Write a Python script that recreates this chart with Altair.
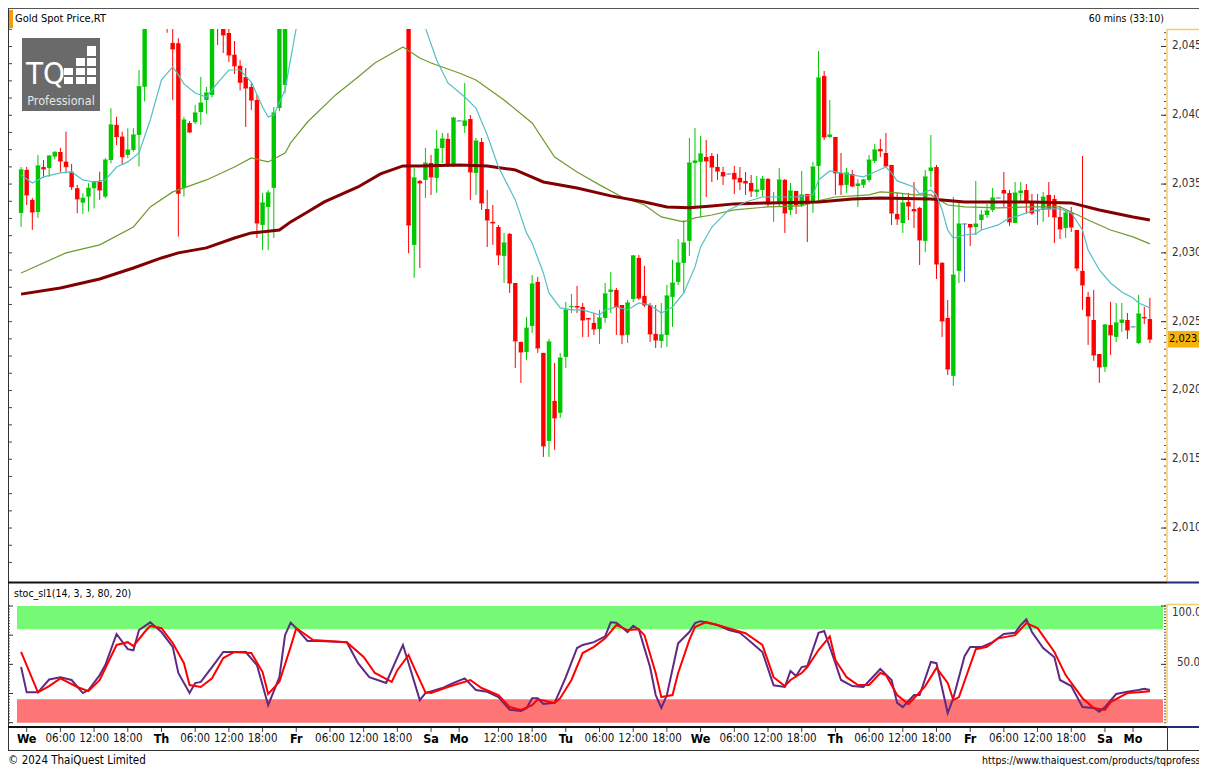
import altair as alt
import pandas as pd
import numpy as np

W, H = 1149, 698
FONT = "DejaVu Sans Condensed, DejaVu Sans, sans-serif"

# ---------------- candles (index -1 .. 200, one per hour) ----------------
candle_idx = list(range(-1, 201))
opens = [
    2032.90, 2036.03, 2033.85, 2032.97, 2036.24, 2036.17, 2037.00, 2037.33, 2036.63, 2035.90,
    2034.70, 2033.65, 2034.09, 2034.70, 2035.18, 2034.09, 2036.75, 2039.30, 2038.45, 2037.12,
    2037.48, 2038.57, 2042.08, 2047.50, 2051.00, 2053.50, 2051.00, 2045.26, 2045.23, 2034.72,
    2039.44, 2039.50, 2040.24, 2041.11, 2041.48, 2047.50, 2046.80, 2045.98, 2044.40, 2043.60,
    2042.78, 2042.06, 2041.11, 2032.03, 2033.34, 2034.72, 2040.53, 2042.20, 2048.00, 2051.50,
    2053.00, 2054.50, 2053.00, 2052.00, 2053.00, 2054.50, 2056.00, 2055.00, 2054.00, 2055.00,
    2054.50, 2053.00, 2052.00, 2051.50, 2053.00, 2052.50, 2051.50, 2052.50, 2053.50, 2055.50,
    2030.58, 2035.23, 2035.30, 2036.53, 2035.45, 2037.62, 2038.28, 2036.39, 2039.59, 2039.22,
    2039.73, 2035.81, 2038.06, 2033.19, 2032.25, 2031.88, 2029.78, 2031.38, 2027.81, 2023.53,
    2022.80, 2024.69, 2027.89, 2022.73, 2016.33, 2019.24, 2018.37, 2022.44, 2026.06, 2026.14,
    2026.07, 2025.27, 2024.91, 2024.47, 2025.27, 2027.16, 2027.30, 2026.21, 2024.04, 2026.65,
    2029.63, 2026.87, 2026.21, 2024.11, 2023.60, 2024.04, 2026.80, 2027.89, 2029.27, 2030.87,
    2036.53, 2036.61, 2036.97, 2037.04, 2036.24, 2035.88, 2035.73, 2035.81, 2035.45, 2035.23,
    2035.08, 2034.43, 2034.57, 2035.37, 2033.56, 2033.63, 2035.30, 2033.12, 2034.50, 2033.48,
    2034.28, 2033.63, 2036.32, 2042.86, 2038.42, 2038.42, 2035.81, 2034.94, 2035.73, 2034.86,
    2034.94, 2035.30, 2036.68, 2037.55, 2037.26, 2036.39, 2032.83, 2032.17, 2033.70, 2033.19,
    2033.27, 2030.87, 2035.95, 2036.24, 2029.27, 2025.27, 2021.06, 2028.69, 2032.10, 2032.10,
    2031.88, 2032.39, 2032.75, 2033.12, 2033.99, 2034.57, 2034.35, 2032.17, 2034.35, 2034.57,
    2033.63, 2033.05, 2033.12, 2034.21, 2033.92, 2032.61, 2031.81, 2032.90, 2031.66, 2028.69,
    2026.80, 2025.12, 2022.65, 2021.71, 2024.76, 2023.89, 2024.91, 2025.12, 2024.62, 2023.45,
    2025.34, 2025.19,
]
highs = [
    2036.24, 2036.24, 2033.99, 2037.12, 2036.75, 2037.12, 2037.40, 2037.63, 2038.81, 2036.46,
    2034.94, 2034.33, 2035.06, 2035.18, 2035.90, 2036.88, 2040.51, 2039.90, 2038.81, 2039.06,
    2039.06, 2043.29, 2048.50, 2052.00, 2054.50, 2055.00, 2052.50, 2047.00, 2045.60, 2039.88,
    2039.59, 2040.75, 2042.78, 2042.06, 2047.50, 2049.00, 2047.00, 2046.50, 2045.40, 2044.00,
    2043.44, 2042.35, 2041.48, 2034.36, 2034.57, 2040.60, 2049.00, 2050.00, 2052.50, 2054.00,
    2055.50, 2056.00, 2054.50, 2053.50, 2055.00, 2056.50, 2057.00, 2056.00, 2055.50, 2056.00,
    2055.00, 2054.00, 2053.00, 2053.50, 2054.50, 2053.00, 2053.00, 2054.00, 2056.00, 2056.50,
    2036.17, 2035.30, 2037.63, 2037.12, 2038.93, 2038.71, 2038.71, 2039.88, 2039.62, 2042.35,
    2040.02, 2038.35, 2038.35, 2034.57, 2033.48, 2032.03, 2031.45, 2031.45, 2027.81, 2023.53,
    2025.34, 2028.39, 2028.25, 2022.73, 2023.74, 2022.00, 2022.73, 2026.43, 2027.02, 2027.60,
    2026.36, 2025.27, 2025.63, 2025.85, 2027.81, 2028.61, 2027.45, 2026.21, 2026.58, 2029.85,
    2029.85, 2029.05, 2026.36, 2026.21, 2026.36, 2027.67, 2029.49, 2031.01, 2032.39, 2038.35,
    2039.08, 2038.50, 2038.20, 2037.26, 2037.19, 2036.24, 2035.75, 2036.32, 2036.24, 2035.88,
    2035.66, 2035.59, 2035.59, 2035.45, 2034.43, 2036.17, 2035.37, 2035.08, 2034.50, 2035.95,
    2034.28, 2036.61, 2044.67, 2043.22, 2041.11, 2038.42, 2037.26, 2036.17, 2036.02, 2035.37,
    2035.37, 2037.12, 2037.92, 2038.28, 2038.71, 2036.39, 2034.36, 2034.28, 2034.36, 2035.15,
    2033.34, 2036.02, 2038.57, 2036.39, 2029.34, 2026.58, 2034.06, 2033.63, 2032.12, 2032.10,
    2035.23, 2033.12, 2033.56, 2034.72, 2034.01, 2035.88, 2034.57, 2035.15, 2035.15, 2035.01,
    2034.28, 2034.28, 2034.43, 2035.15, 2034.21, 2033.41, 2033.19, 2033.34, 2031.66, 2037.04,
    2027.16, 2027.30, 2022.65, 2024.83, 2026.43, 2026.36, 2026.36, 2025.63, 2024.64, 2026.94,
    2026.07, 2026.72,
]
lows = [
    2031.88, 2033.48, 2031.67, 2032.54, 2035.45, 2035.52, 2036.80, 2035.88, 2035.79, 2034.57,
    2032.88, 2032.83, 2033.00, 2033.24, 2033.85, 2033.97, 2036.51, 2037.84, 2036.39, 2036.88,
    2037.36, 2036.27, 2041.00, 2046.80, 2049.50, 2050.00, 2046.00, 2041.10, 2031.18, 2034.09,
    2038.71, 2039.37, 2039.30, 2040.10, 2041.30, 2045.11, 2044.53, 2043.87, 2043.00, 2041.80,
    2039.15, 2040.39, 2031.08, 2030.21, 2030.21, 2031.08, 2040.30, 2041.60, 2047.00, 2050.00,
    2051.50, 2052.50, 2051.00, 2050.50, 2052.00, 2053.50, 2054.00, 2053.50, 2053.00, 2054.00,
    2052.50, 2051.50, 2050.50, 2051.00, 2052.00, 2051.00, 2050.50, 2051.50, 2052.50, 2029.97,
    2028.18, 2028.90, 2033.99, 2034.21, 2034.36, 2036.53, 2036.24, 2036.24, 2039.56, 2038.71,
    2033.85, 2034.21, 2033.12, 2030.43, 2030.58, 2029.12, 2027.81, 2027.09, 2021.64, 2020.55,
    2022.22, 2024.18, 2022.73, 2015.17, 2015.17, 2015.68, 2018.00, 2021.64, 2025.63, 2025.63,
    2023.89, 2023.89, 2024.04, 2023.38, 2024.91, 2025.63, 2024.04, 2023.38, 2023.45, 2026.43,
    2026.58, 2026.07, 2023.53, 2023.09, 2023.09, 2023.16, 2024.62, 2027.67, 2027.09, 2029.78,
    2033.34, 2032.61, 2034.06, 2035.15, 2035.30, 2034.94, 2035.71, 2034.28, 2034.57, 2034.21,
    2034.06, 2034.06, 2034.06, 2033.34, 2032.25, 2033.34, 2031.45, 2032.75, 2032.83, 2033.34,
    2030.79, 2032.90, 2033.63, 2038.20, 2038.35, 2034.21, 2034.21, 2034.36, 2034.79, 2033.34,
    2034.72, 2035.15, 2036.53, 2036.97, 2036.24, 2032.03, 2032.03, 2031.45, 2032.39, 2031.81,
    2029.12, 2030.07, 2034.79, 2028.10, 2023.89, 2021.13, 2020.33, 2027.81, 2027.89, 2030.50,
    2031.30, 2031.66, 2032.54, 2032.97, 2033.97, 2033.34, 2031.96, 2032.17, 2033.70, 2032.83,
    2032.75, 2032.03, 2032.25, 2032.61, 2030.72, 2031.01, 2031.08, 2031.52, 2028.69, 2025.85,
    2023.31, 2022.15, 2020.55, 2021.35, 2022.58, 2023.53, 2024.26, 2023.74, 2024.60, 2023.38,
    2024.83, 2023.45,
]
closes = [
    2036.03, 2034.21, 2032.97, 2036.32, 2036.10, 2037.04, 2037.30, 2036.68, 2036.27, 2034.81,
    2033.92, 2033.97, 2034.70, 2035.18, 2034.57, 2036.75, 2039.30, 2038.45, 2036.99, 2037.48,
    2038.57, 2042.08, 2047.50, 2051.00, 2053.50, 2051.00, 2046.50, 2044.82, 2034.33, 2039.66,
    2038.79, 2040.17, 2040.89, 2041.62, 2047.00, 2046.80, 2045.84, 2044.38, 2043.60, 2042.40,
    2041.98, 2041.11, 2032.17, 2033.63, 2034.36, 2040.17, 2047.50, 2048.00, 2051.50, 2053.00,
    2054.50, 2053.00, 2052.00, 2053.00, 2054.50, 2056.00, 2055.00, 2054.00, 2055.00, 2054.50,
    2053.00, 2052.00, 2051.50, 2053.00, 2052.50, 2051.50, 2052.50, 2053.50, 2055.50, 2032.03,
    2035.45, 2035.08, 2036.53, 2035.52, 2037.55, 2038.28, 2036.39, 2039.80, 2039.59, 2039.59,
    2035.88, 2038.13, 2033.63, 2032.39, 2032.17, 2029.85, 2030.72, 2027.81, 2023.60, 2022.80,
    2024.54, 2027.74, 2023.09, 2015.97, 2023.53, 2018.01, 2022.36, 2025.85, 2026.10, 2026.06,
    2025.12, 2025.19, 2024.47, 2025.27, 2027.02, 2027.30, 2026.07, 2024.04, 2026.36, 2029.78,
    2026.72, 2026.21, 2024.11, 2023.67, 2024.04, 2026.87, 2027.81, 2029.27, 2030.72, 2036.53,
    2036.68, 2037.19, 2036.68, 2036.24, 2035.95, 2035.59, 2035.73, 2035.37, 2035.15, 2035.08,
    2034.50, 2034.57, 2035.37, 2033.56, 2033.63, 2035.30, 2032.90, 2034.50, 2033.48, 2034.21,
    2033.56, 2036.24, 2042.71, 2038.42, 2038.57, 2035.81, 2034.94, 2035.81, 2034.86, 2035.01,
    2035.30, 2036.75, 2037.48, 2037.41, 2036.32, 2032.90, 2032.47, 2033.63, 2033.41, 2033.05,
    2030.94, 2035.52, 2036.17, 2029.19, 2025.05, 2021.56, 2028.39, 2032.10, 2032.10, 2031.88,
    2032.10, 2032.75, 2033.05, 2033.99, 2033.99, 2034.35, 2032.25, 2034.35, 2034.50, 2033.70,
    2032.90, 2033.05, 2034.06, 2033.19, 2032.61, 2031.74, 2032.90, 2031.88, 2028.90, 2027.67,
    2025.42, 2022.58, 2021.71, 2024.76, 2024.04, 2024.91, 2025.12, 2024.40, 2024.62, 2025.56,
    2025.27, 2023.73,
]

# ---------------- moving averages (read at sample candles) ----------------
cyan_idx = [-1, 1, 3, 6, 8, 10, 12, 14, 16, 18, 20, 22, 24, 26, 27, 28, 30, 32, 34, 36,
            38, 40, 42, 43, 44, 46, 48, 50, 54, 58, 62, 66, 68, 70, 71, 73, 75, 78, 80, 82,
            84, 87, 89, 90, 92, 93, 95, 97, 99, 102, 103, 105, 107, 109, 111, 113, 115, 117, 119, 120,
            122, 125, 128, 131, 134, 137, 140, 141, 143, 145, 147, 149, 151, 153, 154, 155, 158, 159, 161, 162,
            163, 164, 165, 167, 169, 170, 173, 175, 176, 179, 181, 184, 186, 188, 189, 191, 193, 195, 197, 198, 200]
cyan_val = [2035.66, 2035.08, 2035.52, 2035.81, 2035.88, 2035.30, 2035.15, 2035.30, 2036.24, 2036.61,
            2037.26, 2039.66, 2042.57, 2043.51, 2042.93, 2042.28, 2041.62, 2041.33, 2042.35, 2043.29,
            2043.29, 2042.42, 2040.60, 2039.88, 2040.02, 2041.84, 2046.35, 2049.50, 2052.00, 2053.50,
            2053.00, 2053.00, 2050.50, 2047.30, 2046.35, 2044.02, 2042.35, 2041.33, 2040.53, 2038.57,
            2036.24, 2033.85, 2031.45, 2030.72, 2028.54, 2027.09, 2026.00, 2025.85, 2025.85, 2025.49,
            2025.85, 2026.07, 2025.85, 2026.36, 2026.21, 2025.63, 2026.07, 2027.09, 2028.98, 2030.43,
            2031.88, 2033.12, 2033.70, 2034.06, 2034.06, 2034.06, 2034.21, 2035.30, 2035.95, 2035.81,
            2035.66, 2035.52, 2035.88, 2036.24, 2035.81, 2035.23, 2034.79, 2034.28, 2034.57, 2034.21,
            2033.12, 2031.66, 2031.08, 2031.30, 2031.38, 2031.66, 2032.03, 2032.54, 2032.61, 2033.05,
            2033.19, 2033.19, 2032.90, 2031.66, 2030.21, 2028.76, 2027.81, 2027.16, 2026.72, 2026.36,
            2026.00]

olive_idx = [-1, 7, 13, 19, 22, 26, 28, 32, 37, 40, 43, 46, 47, 50, 55, 59, 62, 67, 70, 72,
             77, 80, 85, 90, 94, 98, 102, 106, 110, 113, 117, 119, 122, 126, 132, 138, 140, 144, 150, 152,
             155, 158, 161, 164, 167, 173, 179, 184, 186, 189, 193, 197, 200]
olive_val = [2028.54, 2030.00, 2030.58, 2031.88, 2033.34, 2034.43, 2034.72, 2035.30, 2036.24, 2036.90,
             2036.61, 2037.26, 2037.99, 2039.51, 2041.48, 2042.78, 2043.80, 2044.96, 2044.16, 2043.80,
             2043.07, 2042.57, 2041.11, 2039.44, 2036.97, 2035.88, 2034.94, 2034.06, 2033.48, 2032.61,
             2032.25, 2032.54, 2032.75, 2033.12, 2033.34, 2033.41, 2033.70, 2034.06, 2034.21, 2034.43,
             2034.36, 2034.21, 2034.21, 2033.48, 2033.34, 2033.27, 2033.34, 2033.34, 2032.97, 2032.39,
             2031.66, 2031.16, 2030.65]

dred_idx = [-1, 6, 13, 19, 24, 27, 32, 37, 40, 45, 47, 50, 53, 59, 63, 67, 70, 77, 82, 87,
            92, 98, 104, 110, 114, 118, 122, 126, 132, 141, 147, 152, 161, 167, 179, 186, 191, 197, 200]
dred_val = [2027.00, 2027.45, 2028.10, 2028.90, 2029.63, 2030.00, 2030.36, 2031.08, 2031.45, 2031.66,
            2032.25, 2032.97, 2033.70, 2034.79, 2035.74, 2036.32, 2036.32, 2036.39, 2036.32, 2036.03,
            2035.15, 2034.72, 2034.14, 2033.70, 2033.34, 2033.27, 2033.41, 2033.56, 2033.63, 2033.70,
            2033.92, 2033.99, 2033.92, 2033.70, 2033.70, 2033.63, 2033.12, 2032.61, 2032.39]

# ---------------- stochastic ----------------
k_idx = [-1, 0, 2, 4, 6, 8, 10, 11, 13, 14, 16, 18, 19, 20, 22, 24, 26, 27, 29, 30,
         31, 33, 35, 37, 39, 41, 43, 45, 46, 47, 48, 50, 52, 57, 59, 61, 64, 66, 67, 68,
         70, 71, 74, 76, 78, 80, 82, 84, 86, 88, 89, 90, 91, 92, 94, 95, 96, 98, 99, 101,
         103, 104, 105, 107, 108, 109, 111, 112, 113, 114, 116, 118, 119, 120, 123, 125, 127, 129, 131, 133,
         135, 136, 137, 138, 139, 141, 142, 144, 145, 147, 149, 150, 152, 154, 155, 156, 158, 159, 161, 162,
         164, 165, 167, 168, 170, 172, 174, 176, 177, 178, 179, 181, 183, 184, 186, 188, 190, 191, 192, 194,
         196, 198, 199, 200]
k_val = [47.7, 26, 26, 37, 39, 36.6, 25.4, 28, 40.8, 49.4, 76, 63, 62, 79.4, 86, 77.7, 65, 42.6, 25.5, 34,
         35, 47.7, 60.6, 60.6, 60.6, 49.4, 15, 39, 75, 85.6, 81, 70, 70, 69, 51, 39, 34, 56, 66.6, 51,
         19.4, 25.4, 29.7, 34, 38, 28, 26.5, 22, 11, 10, 12.4, 21, 21, 16, 17, 28, 39, 64, 66.6, 69,
         74, 86, 85.6, 77.7, 83, 80, 47.7, 23.7, 12.6, 23.7, 68, 77.7, 85.3, 87, 83.7, 79.4, 77, 69, 60.6, 32,
         30.6, 44.3, 40, 47.7, 48.6, 77, 78.6, 51, 36.6, 31.4, 30.6, 35.7, 46, 36.6, 17, 13.4, 23.7, 23.7, 52, 51,
         8.3, 21, 57, 64.8, 64.8, 69, 76, 77, 83.7, 88.6, 77.7, 64, 56, 36.6, 31.4, 13.4, 12.6, 9.4, 13.4, 24.6,
         26.5, 28, 29, 28]
d_idx = [-1, 2, 4, 6, 9, 11, 13, 16, 18, 19, 21, 22, 24, 26, 28, 29, 31, 33, 35, 37,
         40, 42, 43, 45, 47, 48, 49, 51, 57, 60, 62, 65, 66, 68, 69, 71, 72, 75, 79, 81,
         84, 86, 88, 90, 91, 94, 95, 97, 99, 101, 103, 105, 107, 109, 110, 112, 113, 115, 116, 118,
         119, 121, 123, 126, 128, 131, 133, 135, 136, 138, 139, 141, 143, 144, 146, 148, 150, 152, 153, 155,
         157, 158, 160, 162, 164, 165, 166, 169, 171, 173, 176, 178, 180, 183, 185, 188, 190, 192, 193, 196,
         198, 200]
d_val = [60.6, 26, 31.4, 38, 30.6, 27, 36.6, 66.6, 69, 65.7, 77.7, 82.9, 81, 68.3, 51, 32.3, 30.6, 38, 55.4, 60.6,
         59.7, 43.4, 24.6, 35, 65, 81, 77.7, 70.9, 69, 56.3, 42.6, 35, 45, 58, 47, 26, 25.4, 30.6, 36.6, 29.7,
         23.7, 13.4, 10.9, 15, 20, 17, 21, 36.6, 59.7, 65, 72.3, 83.7, 79.4, 80, 75, 42.6, 22, 23.7, 42.6, 70.9,
         82, 86.3, 83.7, 79.4, 76.7, 66.6, 39, 31.4, 36.6, 42.6, 47.7, 62.3, 74, 53.7, 39, 32.3, 32.3, 42.6, 40.8, 23.7,
         16, 21, 31.4, 47, 34, 19.4, 22, 63, 65, 72.3, 75, 85.3, 81, 60.6, 40.8, 21, 12.6, 10.9, 17.7, 25.4,
         26, 27]
band_lo = [80, 0]
band_hi = [100, 20]

# ---------------- axis labels ----------------
price_ticks = [2010, 2015, 2020, 2025, 2030, 2035, 2040, 2045]
stoch_ticks = [100, 50]
x_lab_idx = [0, 6, 12, 18, 24, 30, 36, 42, 48, 54, 60, 66, 72, 77, 84, 90, 96, 102, 108, 114,
             120, 126, 132, 138, 144, 150, 156, 162, 168, 174, 180, 186, 192, 197]
x_lab_txt = ["We", "06:00", "12:00", "18:00", "Th", "06:00", "12:00", "18:00", "Fr", "06:00",
             "12:00", "18:00", "Sa", "Mo", "12:00", "18:00", "Tu", "06:00", "12:00", "18:00",
             "We", "06:00", "12:00", "18:00", "Th", "06:00", "12:00", "18:00", "Fr", "06:00",
             "12:00", "18:00", "Sa", "Mo"]
DAYS = {"Mo", "Tu", "We", "Th", "Fr", "Sa", "Su"}

# ---------------- scales ----------------
xs = alt.Scale(domain=[-1.727, 202.87], nice=False, zero=False, padding=0)
py = alt.Scale(domain=[1995.54, 2046.27], nice=False, zero=False, padding=0)
sy = alt.Scale(domain=[-3.68, 594.4], nice=False, zero=False, padding=0)
col = alt.Scale(domain=["up", "down", "flat"], range=["#00c800", "#ff0000", "#3a5fcd"])
X = alt.X("i:Q", scale=xs, axis=None)

df = pd.DataFrame({"i": candle_idx, "o": opens, "h": highs, "l": lows, "c": closes})
df["dir"] = np.where(df.c > df.o, "up", np.where(df.c < df.o, "down", "flat"))
C = alt.Color("dir:N", scale=col, legend=None)

base = alt.Chart(df)
wicks = base.mark_rule(strokeWidth=1, clip=True).encode(
    x=X, y=alt.Y("l:Q", scale=py, axis=None), y2="h:Q", color=C)
bodies = base.mark_bar(size=4.4, clip=True).encode(
    x=X, y=alt.Y("o:Q", scale=py, axis=None), y2="c:Q", color=C)
dashes = base.mark_tick(orient="horizontal", size=5, thickness=1.2, clip=True).encode(
    x=X, y=alt.Y("c:Q", scale=py, axis=None), color=C)


def ma(idx, val, color, w):
    return alt.Chart(pd.DataFrame({"i": idx, "v": val})).mark_line(
        color=color, strokeWidth=w, clip=True).encode(x=X, y=alt.Y("v:Q", scale=py, axis=None))


olive = ma(olive_idx, olive_val, "#6f9a2e", 1.2)
dred = ma(dred_idx, dred_val, "#820000", 3)
cyan = ma(cyan_idx, cyan_val, "#55bec6", 1.2)

# price axis labels / ticks
plab = alt.Chart(pd.DataFrame({"v": price_ticks})).mark_text(
    align="left", baseline="middle", font=FONT, fontSize=11.5, color="#333").encode(
    x=alt.value(1155), y=alt.Y("v:Q", scale=py, axis=None), text=alt.Text("v:Q", format=",.1f"))
pminor = alt.Chart(pd.DataFrame({"v": np.arange(2006.5, 2046.01, 0.5)})).mark_rule(
    color="#555", strokeWidth=1).encode(y=alt.Y("v:Q", scale=py, axis=None), x=alt.value(1147), x2=alt.value(1149))
pmajor = alt.Chart(pd.DataFrame({"v": price_ticks})).mark_rule(
    color="#333", strokeWidth=1).encode(y=alt.Y("v:Q", scale=py, axis=None), x=alt.value(1144), x2=alt.value(1149))
pleft = alt.Chart(pd.DataFrame({"v": np.arange(2007.5, 2046.3, 1.25)})).mark_rule(
    color="#444", strokeWidth=1).encode(y=alt.Y("v:Q", scale=py, axis=None), x=alt.value(-9), x2=alt.value(-5))

last = closes[-1]
tag = alt.Chart(pd.DataFrame({"lo": [last - 0.6], "hi": [last + 0.6]})).mark_rect(color="#f9b208").encode(
    x=alt.value(1151), x2=alt.value(1192), y=alt.Y("lo:Q", scale=py, axis=None), y2="hi:Q")
tagtxt = alt.Chart(pd.DataFrame({"p": [last]})).mark_text(
    align="left", baseline="middle", font=FONT, fontSize=11, color="#000").encode(
    x=alt.value(1152), y=alt.Y("p:Q", scale=py, axis=None), text=alt.Text("p:Q", format=",.2f"))

price_group = alt.layer(wicks, bodies, dashes, olive, dred, cyan, pminor, pmajor, pleft, tag, tagtxt, plab)

# stochastic group
bands = []
for lo, hi, colr in zip(band_lo, band_hi, ["#76fa76", "#fe7575"]):
    bands.append(alt.Chart(pd.DataFrame({"lo": [lo], "hi": [hi]})).mark_rect(color=colr).encode(
        x=alt.value(0), x2=alt.value(1146), y=alt.Y("lo:Q", scale=sy, axis=None), y2="hi:Q"))
kline = alt.Chart(pd.DataFrame({"i": k_idx, "v": k_val})).mark_line(color="#5e2a84", strokeWidth=2).encode(
    x=X, y=alt.Y("v:Q", scale=sy, axis=None))
dline = alt.Chart(pd.DataFrame({"i": d_idx, "v": d_val})).mark_line(color="#ff0000", strokeWidth=2).encode(
    x=X, y=alt.Y("v:Q", scale=sy, axis=None))
sminor = alt.Chart(pd.DataFrame({"v": np.arange(0, 100.1, 2.5)})).mark_rule(color="#555", strokeWidth=1).encode(
    y=alt.Y("v:Q", scale=sy, axis=None), x=alt.value(1147), x2=alt.value(1149))
smajor = alt.Chart(pd.DataFrame({"v": stoch_ticks})).mark_rule(color="#333", strokeWidth=1).encode(
    y=alt.Y("v:Q", scale=sy, axis=None), x=alt.value(1144), x2=alt.value(1149))
sleft = alt.Chart(pd.DataFrame({"v": np.arange(0, 100.1, 2.5)})).mark_rule(color="#555", strokeWidth=1).encode(
    y=alt.Y("v:Q", scale=sy, axis=None), x=alt.value(-9), x2=alt.value(-7))
sleftmaj = alt.Chart(pd.DataFrame({"v": [0, 25, 50, 75, 100]})).mark_rule(color="#333", strokeWidth=1).encode(
    y=alt.Y("v:Q", scale=sy, axis=None), x=alt.value(-9), x2=alt.value(-4))
slab100 = alt.Chart(pd.DataFrame({"v": [stoch_ticks[0]]})).mark_text(
    align="left", baseline="middle", dy=7, font=FONT, fontSize=11.5, color="#333").encode(
    x=alt.value(1155), y=alt.Y("v:Q", scale=sy, axis=None), text=alt.Text("v:Q", format=".3f"))
slab50 = alt.Chart(pd.DataFrame({"v": [stoch_ticks[1]]})).mark_text(
    align="left", baseline="middle", dy=-1, font=FONT, fontSize=11.5, color="#333").encode(
    x=alt.value(1160), y=alt.Y("v:Q", scale=sy, axis=None), text=alt.Text("v:Q", format=".3f"))
stoch_group = alt.layer(*bands, kline, dline, sminor, smajor, sleft, sleftmaj, slab100, slab50)

# x axis labels
labdf = pd.DataFrame({"i": x_lab_idx, "t": x_lab_txt})
labdf["b"] = labdf.t.isin(DAYS)
xbold = alt.Chart(labdf[labdf.b]).mark_text(
    align="center", baseline="middle", font=FONT, fontSize=12.5, fontWeight="bold", color="#000").encode(
    x=X, y=alt.value(710), text="t:N")
xnorm = alt.Chart(labdf[~labdf.b]).mark_text(
    align="center", baseline="middle", font=FONT, fontSize=11.5, color="#111").encode(
    x=X, y=alt.value(710), text="t:N")
xticks = alt.Chart(labdf).mark_rule(color="#444", strokeWidth=1).encode(
    x=X, y=alt.value(699), y2=alt.value(703))

# ---------------- decorations ----------------
ONE = pd.DataFrame({"k": [0]})


def hline(y, x1, x2, color, w=1):
    return alt.Chart(ONE).mark_rule(color=color, strokeWidth=w).encode(
        x=alt.value(x1), x2=alt.value(x2), y=alt.value(y))


def vline(x, y1, y2, color, w=1):
    return alt.Chart(ONE).mark_rule(color=color, strokeWidth=w).encode(
        x=alt.value(x), y=alt.value(y1), y2=alt.value(y2))


def box(x1, x2, y1, y2, color):
    return alt.Chart(ONE).mark_rect(color=color).encode(
        x=alt.value(x1), x2=alt.value(x2), y=alt.value(y1), y2=alt.value(y2))


def label(x, y, txt, size, color="#000", align="left", weight="normal", baseline="middle"):
    return alt.Chart(pd.DataFrame({"t": [txt]})).mark_text(
        align=align, baseline=baseline, font=FONT, fontSize=size, color=color, fontWeight=weight).encode(
        x=alt.value(x), y=alt.value(y), text="t:N")


decos = [
    hline(-20.5, -9, 1182, "#555", 1),
    vline(-8.5, -21, 721, "#333", 1),
    hline(553.5, -9, 1150, "#111", 2),
    hline(553.5, 1150, 1182, "#1b2f7a", 2),
    hline(698, -9, 1150, "#111", 2),
    hline(698, 1150, 1182, "#1b2f7a", 2),
    hline(721.5, -9, 1182, "#333", 1),
    vline(1150.5, 698, 721, "#333", 1),
    vline(1150, 0, 552, "#f2cc6a", 1.5),
    hline(0.5, 1150, 1182, "#f2cc6a", 1.5),
    vline(1150, 575, 694, "#f2cc6a", 1.5),
    hline(575.5, 1150, 1182, "#f2cc6a", 1.5),
    box(-8, -4, -19, -1, "#f39c12"),
    label(-2, -10, "Gold Spot Price,RT", 11),
    label(1147, -10, "60 mins (33:10)", 10.5, align="right"),
    label(-3, 565, "stoc_sl1(14, 3, 3, 80, 20)", 10.5),
    label(-9, 732, "\u00a9 2024 ThaiQuest Limited", 11.5),
    label(965, 732, "https://www.thaiquest.com/products/tqprofessional", 10.5),
    # logo
    box(5, 83, 9, 82, "#6a6a6a"),
    label(9, 55, "TQ", 31, color="#ffffff", baseline="alphabetic"),
    label(44, 72, "Professional", 12.5, color="#e8e8e8", align="center"),
]
cells = [(47, 56, 39, 46), (47, 56, 48, 55),
         (59, 68, 29, 37), (59, 68, 39, 46), (59, 68, 48, 55),
         (70, 79, 17, 27), (70, 79, 29, 37), (70, 79, 39, 46), (70, 79, 48, 55)]
for c in cells:
    decos.append(box(c[0], c[1], c[2], c[3], "#ffffff"))

chart = alt.layer(price_group, stoch_group, xticks, xbold, xnorm, *decos).resolve_scale(
    y="independent"
).properties(
    width=W, height=H,
    padding={"left": 9, "top": 21, "right": 33, "bottom": 41},
    autosize=alt.AutoSizeParams(type="none"),
    background="white",
).configure_view(strokeWidth=0)

chart.save("out.html", embed_options={"renderer": "svg", "actions": False})
